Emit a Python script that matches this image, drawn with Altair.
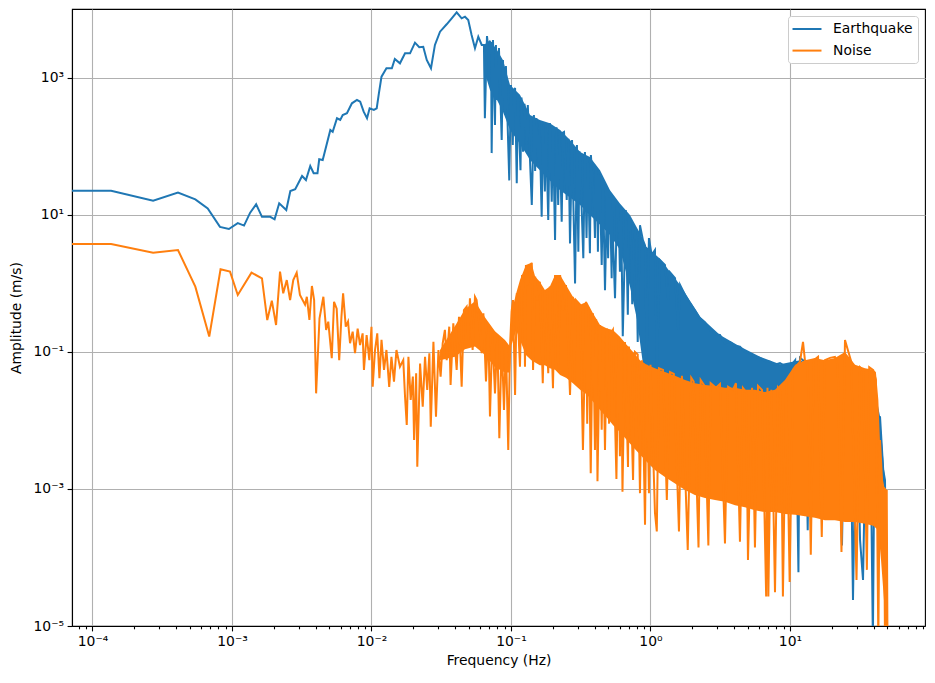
import altair as alt
import pandas as pd

# ---------------- values ----------------
# Earthquake spectrum: (frequency Hz, amplitude m/s); first point stands for the f=0 bin (clipped at left edge)
eq_trace = [
    (5e-5, 22.6), (1.36e-4, 22.6), (2.72e-4, 16.2), (4.1e-4, 21.2), (5.46e-4, 16.9), (6.7e-4, 12.5),
    (8.2e-4, 6.7), (9.5e-4, 6.25), (1.1e-3, 7.6), (1.22e-3, 7.0), (1.35e-3, 10.8), (1.49e-3, 14.3),
    (1.64e-3, 9.4), (1.88e-3, 9.4), (2.02e-3, 8.65), (2.18e-3, 14.8), (2.45e-3, 11.8), (2.62e-3, 22.4),
    (2.84e-3, 23.7), (3.18e-3, 37.1), (3.39e-3, 32.4), (3.64e-3, 51.9), (3.85e-3, 40.6), (4.1e-3, 40.6),
    (4.22e-3, 65), (4.47e-3, 63.5), (5.07e-3, 174), (5.27e-3, 164), (5.66e-3, 258), (5.97e-3, 244),
    (6.22e-3, 288), (6.67e-3, 305), (7.24e-3, 427), (7.87e-3, 477), (8.3e-3, 451), (8.79e-3, 322),
    (9.29e-3, 258), (9.7e-3, 361), (1.04e-2, 341), (1.09e-2, 361), (1.13e-2, 598), (1.18e-2, 1045),
    (1.28e-2, 1387), (1.40e-2, 1387), (1.47e-2, 1893), (1.60e-2, 1637), (1.74e-2, 2290), (1.89e-2, 2290),
    (2.05e-2, 3275), (2.20e-2, 2806), (2.35e-2, 2850), (2.49e-2, 1832), (2.67e-2, 1387), (2.85e-2, 3034),
    (3.10e-2, 4742), (3.46e-2, 6081), (3.76e-2, 7430), (4.08e-2, 9100), (4.43e-2, 7430), (4.68e-2, 7850),
    (4.94e-2, 7030), (5.22e-2, 4246), (5.52e-2, 2716), (5.83e-2, 4009), (6.17e-2, 3034),
    (0.064, 3030), (0.065, 258), (0.0673, 4100), (0.0695, 2170), (0.0719, 3360), (0.0727, 80),
    (0.0743, 3590), (0.0768, 206), (0.078, 3030), (0.0794, 477), (0.082, 2740), (0.0858, 124),
    (0.0876, 1830), (0.0906, 288), (0.092, 1500), (0.0972, 32), (0.100, 791), (0.103, 105),
    (0.105, 650), (0.107, 714), (0.110, 29), (0.112, 565), (0.117, 45), (0.119, 520), (0.122, 84),
    (0.125, 420), (0.13, 105), (0.132, 404), (0.141, 14), (0.146, 288), (0.149, 44), (0.152, 260),
    (0.157, 58), (0.16, 230), (0.166, 9.4), (0.17, 210), (0.175, 22), (0.178, 190), (0.185, 8.45),
    (0.19, 220), (0.196, 15.6), (0.200, 180), (0.207, 4.32), (0.212, 190), (0.218, 14), (0.223, 170),
    (0.231, 8.0), (0.236, 160), (0.24, 163), (0.251, 16.6), (0.258, 130), (0.265, 3.85), (0.274, 124),
    (0.288, 1.0), (0.297, 105), (0.304, 2.9), (0.31, 85), (0.313, 63.5), (0.330, 2.33), (0.339, 83),
    (0.348, 4.6), (0.356, 63.5), (0.368, 2.76), (0.374, 75), (0.393, 16.6), (0.4, 4.6), (0.407, 50),
    (0.413, 38), (0.42, 2.9), (0.427, 40), (0.435, 23), (0.447, 1.86), (0.457, 27.4), (0.472, 0.8),
    (0.488, 19.6), (0.497, 2.33), (0.505, 18), (0.513, 16.6), (0.527, 1.19), (0.530, 11.8), (0.557, 0.61),
    (0.575, 14), (0.59, 12), (0.604, 1.49), (0.615, 13), (0.633, 0.17), (0.665, 11.8), (0.688, 0.35),
    (0.70, 9), (0.72, 7.9), (0.74, 0.5), (0.76, 4.3), (0.786, 6.45), (0.81, 0.14), (0.841, 7.1),
    (0.883, 4.3), (0.914, 3.6), (0.94, 0.08), (0.975, 4.6), (1.02, 2.6), (1.077, 3.08),
    (1.11, 0.0546), (1.17, 2.2), (1.27, 1.86), (1.34, 0.574), (1.38, 1.46), (1.5, 1.2), (1.58, 0.21),
    (1.63, 0.95), (1.77, 0.68), (1.92, 0.52), (2.08, 0.41), (2.26, 0.314), (2.46, 0.27), (2.67, 0.21),
    (2.9, 0.18), (3.15, 0.177), (3.42, 0.135), (3.72, 0.14), (4.04, 0.123), (4.38, 0.12), (4.76, 0.1),
    (5.17, 0.094), (5.61, 0.085), (6.1, 0.082), (6.62, 0.074), (7.19, 0.072), (7.81, 0.065),
    (8.48, 0.069), (9.21, 0.062), (10.0, 0.06), (10.9, 0.076), (11.5, 6.1e-5), (11.8, 0.082),
    (12.8, 0.072), (13.4, 2.5e-4), (13.9, 0.065), (15.1, 0.058), (16.4, 0.055), (17.8, 0.051),
    (19.4, 0.051), (21.0, 0.055), (23.6, 1.5e-4), (24.8, 0.051), (26.9, 0.046), (28.3, 2.4e-5),
    (30.0, 0.046), (31.8, 1.8e-4), (33.4, 4.7e-5), (35.5, 0.045), (37.4, 0.039), (39.3, 6e-6),
    (40.6, 0.028), (43.0, 0.0102), (44.2, 0.0115), (46.6, 0.0019), (48.0, 0.00135), (49.6, 6e-6),
]

# Noise spectrum: (frequency Hz, amplitude m/s)
noise_trace = [
    (5e-5, 3.77), (1.36e-4, 3.77), (2.72e-4, 2.82), (4.1e-4, 3.08), (5.46e-4, 0.90), (6.87e-4, 0.168),
    (8.28e-4, 1.61), (9.68e-4, 1.49), (1.10e-3, 0.68), (1.38e-3, 1.44), (1.64e-3, 1.19), (1.79e-3, 0.293),
    (1.93e-3, 0.561), (2.07e-3, 0.248), (2.21e-3, 1.49), (2.33e-3, 0.72), (2.47e-3, 1.12), (2.61e-3, 0.574),
    (2.75e-3, 1.12), (2.91e-3, 1.44), (3.07e-3, 0.68), (3.34e-3, 0.49), (3.44e-3, 0.64), (3.59e-3, 0.293),
    (3.74e-3, 0.92), (3.88e-3, 0.574), (4.01e-3, 0.0249), (4.24e-3, 0.31), (4.52e-3, 0.64), (4.73e-3, 0.21),
    (4.9e-3, 0.277), (5.19e-3, 0.081), (5.39e-3, 0.54), (5.63e-3, 0.43), (5.87e-3, 0.076), (6.09e-3, 0.327),
    (6.26e-3, 0.72), (6.54e-3, 0.234), (6.79e-3, 0.277), (7.02e-3, 0.134), (7.33e-3, 0.198), (7.62e-3, 0.096),
    (7.96e-3, 0.22), (8.28e-3, 0.126), (8.64e-3, 0.187), (8.83e-3, 0.0546), (9.23e-3, 0.177), (9.65e-3, 0.076),
    (1.0e-2, 0.234), (1.02e-2, 0.0312), (1.06e-2, 0.107), (1.10e-2, 0.187), (1.14e-2, 0.0413), (1.18e-2, 0.150),
    (1.23e-2, 0.0546), (1.28e-2, 0.107), (1.34e-2, 0.031), (1.39e-2, 0.085), (1.45e-2, 0.037), (1.51e-2, 0.107),
    (1.60e-2, 0.061), (1.69e-2, 0.076), (1.74e-2, 0.0223), (1.79e-2, 0.0086), (1.84e-2, 0.085), (1.91e-2, 0.0199),
    (1.98e-2, 0.0437), (2.02e-2, 0.0052), (2.09e-2, 0.0489), (2.13e-2, 0.00212), (2.23e-2, 0.068), (2.33e-2, 0.0159),
    (2.42e-2, 0.085), (2.51e-2, 0.0279), (2.60e-2, 0.096), (2.66e-2, 0.0081), (2.78e-2, 0.141), (2.90e-2, 0.0114),
    (3.02e-2, 0.107), (3.13e-2, 0.0437), (3.24e-2, 0.134), (3.36e-2, 0.21), (3.46e-2, 0.076), (3.61e-2, 0.234),
    (3.69e-2, 0.033), (3.86e-2, 0.262), (4.08e-2, 0.0546), (4.24e-2, 0.327), (4.43e-2, 0.031), (4.60e-2, 0.41),
    (4.81e-2, 0.458), (4.94e-2, 0.150), (5.08e-2, 0.608), (5.31e-2, 0.107), (5.52e-2, 0.64), (5.67e-2, 0.574),
    (5.92e-2, 0.262), (6.17e-2, 0.096), (6.34e-2, 0.367), (6.62e-2, 0.037), (6.88e-2, 0.234), (7.07e-2, 0.0114),
    (7.35e-2, 0.187), (7.68e-2, 0.0249), (7.98e-2, 0.167), (8.25e-2, 0.0055), (8.58e-2, 0.150), (8.91e-2, 0.0142),
    (9.2e-2, 0.134), (9.56e-2, 0.0037), (9.84e-2, 0.119),
    (0.101, 0.387), (0.1034, 0.574), (0.107, 0.0236), (0.110, 0.72), (0.116, 0.061), (0.120, 1.33),
    (0.124, 0.8), (0.126, 0.061), (0.128, 1.86), (0.132, 0.95), (0.137, 1.69), (0.141, 2.0), (0.144, 0.0546),
    (0.149, 1.26), (0.154, 0.574), (0.161, 1.06), (0.169, 0.035), (0.175, 0.8), (0.185, 0.049), (0.190, 0.9),
    (0.200, 0.0295), (0.207, 1.33), (0.218, 0.058), (0.225, 1.33), (0.236, 0.41), (0.248, 0.95), (0.265, 0.0236),
    (0.278, 0.64), (0.285, 0.037), (0.292, 0.574), (0.313, 0.49), (0.328, 0.0037), (0.345, 0.54), (0.352, 0.009),
    (0.36, 0.45), (0.373, 0.0017), (0.387, 0.367), (0.400, 0.0037), (0.408, 0.3), (0.417, 0.0013), (0.435, 0.248),
    (0.447, 0.0073), (0.457, 0.177), (0.472, 0.0037), (0.488, 0.22), (0.505, 0.009), (0.513, 0.177),
    (0.538, 0.21), (0.570, 0.0014), (0.59, 0.167), (0.604, 0.003), (0.615, 0.15), (0.63, 9.1e-4), (0.656, 0.14),
    (0.69, 0.0021), (0.70, 0.12), (0.713, 0.076), (0.75, 0.00135), (0.774, 0.1), (0.81, 0.092), (0.841, 8.7e-4),
    (0.87, 0.076), (0.914, 3.0e-4), (0.94, 0.065), (0.975, 8.7e-4), (1.0, 0.065), (1.077, 4.5e-4), (1.11, 2.4e-4),
    (1.15, 0.058), (1.23, 0.0546), (1.31, 6.9e-4), (1.38, 0.051), (1.47, 0.048), (1.6, 2.4e-4), (1.68, 0.045),
    (1.85, 1.29e-4), (1.96, 0.042), (2.04, 0.037), (2.21, 1.4e-4), (2.29, 0.039), (2.42, 0.033), (2.6, 1.5e-4),
    (2.7, 0.035), (2.95, 0.03), (3.15, 0.034), (3.42, 1.6e-4), (3.6, 0.031), (3.9, 0.028), (4.1, 0.035),
    (4.38, 1.7e-4), (4.6, 0.03), (4.85, 0.026), (5.0, 9.2e-5), (5.35, 0.03), (5.61, 1.4e-4), (5.9, 0.032),
    (6.3, 0.028), (6.75, 2.7e-5), (6.9, 0.03), (7.0, 2.7e-5), (7.35, 0.028), (7.81, 3.1e-5), (8.2, 0.03),
    (8.6, 0.026), (8.9, 2.7e-5), (9.4, 0.037), (9.95, 4.4e-5), (10.5, 0.0546), (11.3, 0.065), (11.8, 0.072),
    (12.4, 0.14), (12.8, 0.076), (13.4, 0.065), (14.1, 1.1e-4), (14.8, 0.076), (15.9, 0.085), (16.9, 2.0e-4),
    (17.8, 0.076), (19.4, 0.082), (21.0, 0.085), (22.0, 0.065), (23.4, 1.2e-4), (24.8, 0.15), (26.0, 0.107),
    (27.5, 0.072), (30.0, 4.7e-5), (31.8, 0.06), (33.4, 0.0546), (35.6, 6.6e-5), (37.0, 0.06), (39.5, 0.0546),
    (41.3, 0.039), (43.0, 6e-6), (44.2, 0.0052), (45.7, 0.00135), (47.2, 6.9e-4), (48.0, 6e-6), (49.4, 9.7e-4),
    (50.0, 6e-6),
]

# Dense (filled-looking) part of each spectrum: (frequency, upper edge, lower edge of the solid core)
eq_band = [
    (0.064, 3030, 1309), (0.0707, 3590, 668), (0.0794, 2565, 477), (0.0876, 1833, 320), (0.0984, 791, 174),
    (0.116, 570, 110), (0.137, 288, 63.5), (0.161, 244, 45), (0.190, 218, 32), (0.225, 174, 23),
    (0.265, 124, 18), (0.313, 83, 14), (0.368, 70, 10), (0.435, 45, 7.2), (0.513, 23, 5.1),
    (0.604, 14.7, 3.1), (0.713, 10, 0.9), (0.80, 6.5, 0.3), (0.86, 5, 0.1), (0.914, 3.6, 0.04),
    (1.17, 2.3, 0.028), (1.63, 0.95, 0.02), (2.26, 0.33, 0.017), (3.15, 0.177, 0.0142), (4.38, 0.12, 0.0122),
    (6.1, 0.085, 0.0102), (8.48, 0.066, 0.0087), (11.8, 0.076, 0.0073), (16.4, 0.055, 0.0052),
    (22.8, 0.052, 0.0045), (31.8, 0.046, 0.0037), (40.6, 0.028, 0.0027), (44.2, 0.0115, 0.0019),
    (48.0, 0.0013, 0.0009),
]

noise_band = [
    (0.031, 0.107, 0.076), (0.0397, 0.24, 0.085), (0.0468, 0.42, 0.11), (0.0552, 0.55, 0.12),
    (0.0652, 0.32, 0.09), (0.0768, 0.2, 0.06), (0.0906, 0.15, 0.05), (0.0984, 0.12, 0.05),
    (0.101, 0.387, 0.126), (0.109, 0.72, 0.21), (0.116, 1.12, 0.15), (0.128, 1.86, 0.09), (0.140, 2.0, 0.076),
    (0.149, 1.26, 0.07), (0.161, 1.06, 0.064), (0.175, 0.8, 0.064), (0.190, 0.9, 0.058), (0.207, 1.33, 0.055),
    (0.225, 1.33, 0.046), (0.248, 0.95, 0.042), (0.278, 0.64, 0.035), (0.313, 0.49, 0.028), (0.35, 0.54, 0.024),
    (0.387, 0.367, 0.019), (0.435, 0.248, 0.0142), (0.488, 0.22, 0.011), (0.538, 0.21, 0.0086),
    (0.604, 0.167, 0.0068), (0.677, 0.126, 0.0052), (0.75, 0.1, 0.0041), (0.841, 0.076, 0.0032),
    (0.94, 0.065, 0.0025), (1.077, 0.058, 0.0019), (1.27, 0.051, 0.0015), (1.5, 0.045, 0.0012),
    (1.77, 0.039, 9.7e-4), (2.08, 0.035, 8.2e-4), (2.46, 0.033, 7.4e-4), (2.9, 0.032, 6.9e-4),
    (3.42, 0.030, 6.5e-4), (4.04, 0.030, 5.8e-4), (4.76, 0.028, 5.4e-4), (5.61, 0.028, 4.9e-4),
    (6.62, 0.026, 4.6e-4), (7.81, 0.028, 4.6e-4), (9.21, 0.039, 4.3e-4), (10.9, 0.065, 4.2e-4),
    (12.8, 0.076, 4.0e-4), (15.1, 0.082, 3.8e-4), (17.8, 0.076, 3.5e-4), (21.0, 0.082, 3.5e-4),
    (24.8, 0.1, 3.3e-4), (29.3, 0.065, 3.3e-4), (34.5, 0.058, 3.1e-4), (39.5, 0.055, 2.9e-4),
    (41.3, 0.051, 2.7e-4), (43.0, 0.02, 2.5e-4), (45.0, 0.0019, 9e-5), (47.2, 0.0011, 2.4e-5),
    (49.6, 9.7e-4, 6e-6),
]

series_names = ["Earthquake", "Noise"]
series_colors = ["#1f77b4", "#ff7f0e"]

x_domain = [7.13e-5, 92.9]
y_domain = [1e-5, 1.016e4]
x_major = [1e-4, 1e-3, 1e-2, 1e-1, 1, 10]
x_minor = [k * 10.0 ** e for e in range(-5, 2) for k in range(2, 10) if x_domain[0] < k * 10.0 ** e < x_domain[1]]
y_major = [1e-5, 1e-3, 1e-1, 10, 1000]

# ---------------- tables ----------------
def trace_df(points, name):
    return pd.DataFrame({
        "f": [p[0] for p in points],
        "a": [p[1] for p in points],
        "i": list(range(len(points))),
        "series": name,
    })

def band_df(rows):
    return pd.DataFrame({
        "f": [r[0] for r in rows],
        "hi": [r[1] for r in rows],
        "lo": [r[2] for r in rows],
    })

eq_df = trace_df(eq_trace, series_names[0])
noise_df = trace_df(noise_trace, series_names[1])
eq_band_df = band_df(eq_band)
noise_band_df = band_df(noise_band)

sup = {"-": "\u207b", "0": "\u2070", "1": "\u00b9", "2": "\u00b2", "3": "\u00b3",
       "4": "\u2074", "5": "\u2075"}
labels = ["10" + "".join(sup[c] for c in str(e)) for e in range(-5, 4)]
label_expr = "[" + ",".join("'" + l + "'" for l in labels) + "][round(log(datum.value)/LN10)+5]"

xs = alt.Scale(type="log", domain=x_domain, nice=False)
ys = alt.Scale(type="log", domain=y_domain, nice=False)

x_axis_major = alt.Axis(values=x_major, labelExpr=label_expr, title="Frequency (Hz)", grid=True,
                        tickSize=4.9, orient="bottom", titlePadding=5, labelFlush=False)
x_axis_minor = alt.Axis(values=x_minor, labels=False, grid=False, tickSize=2.8, title="",
                        domain=False, orient="bottom")
y_axis = alt.Axis(values=y_major, labelExpr=label_expr, title="Amplitude (m/s)", grid=True,
                  tickSize=4.9, titlePadding=10, labelFlush=False)

color = alt.Color("series:N", scale=alt.Scale(domain=series_names, range=series_colors),
                  legend=alt.Legend(title="", orient="none", legendX=716, legendY=7,
                                    symbolType="M-2.07,0H2.07", symbolStrokeWidth=2, symbolSize=196,
                                    symbolOffset=6, labelOffset=18,
                                    labelFontSize=13.9, labelFont="DejaVu Sans", labelColor="black",
                                    padding=5, rowPadding=6.6,
                                    strokeColor="#cccccc", fillColor="white", cornerRadius=3))

eq_area = alt.Chart(eq_band_df).mark_area(clip=True, color=series_colors[0], opacity=1).encode(
    x=alt.X("f:Q", scale=xs, axis=x_axis_minor),
    y=alt.Y("hi:Q", scale=ys, axis=y_axis),
    y2="lo:Q",
)
eq_line = alt.Chart(eq_df).mark_line(clip=True, strokeWidth=2).encode(
    x=alt.X("f:Q", scale=xs, axis=x_axis_major),
    y=alt.Y("a:Q", scale=ys, axis=y_axis),
    order="i:Q",
    color=color,
)
noise_area = alt.Chart(noise_band_df).mark_area(clip=True, color=series_colors[1], opacity=1).encode(
    x=alt.X("f:Q", scale=xs, axis=None),
    y=alt.Y("hi:Q", scale=ys, axis=y_axis),
    y2="lo:Q",
)
noise_line = alt.Chart(noise_df).mark_line(clip=True, strokeWidth=2).encode(
    x=alt.X("f:Q", scale=xs, axis=None),
    y=alt.Y("a:Q", scale=ys, axis=y_axis),
    order="i:Q",
    color=color,
)

chart = alt.layer(eq_area, eq_line, noise_area, noise_line).resolve_axis(x="independent").properties(
    width=853, height=617,
    padding={"left": 64, "top": 1, "right": 2, "bottom": 49},
    autosize=alt.AutoSizeParams(type="none"),
).configure_axis(
    labelFont="DejaVu Sans", titleFont="DejaVu Sans", labelFontSize=13.9, titleFontSize=13.9,
    titleFontWeight="normal", labelColor="black", titleColor="black", domainColor="black",
    tickColor="black", gridColor="#b0b0b0", gridWidth=1.1, domainWidth=1.1, tickWidth=1.1,
    labelPadding=3.5,
).configure_view(stroke="black", strokeWidth=1.1)

chart.save("out.html", embed_options={"renderer": "svg", "actions": False})
